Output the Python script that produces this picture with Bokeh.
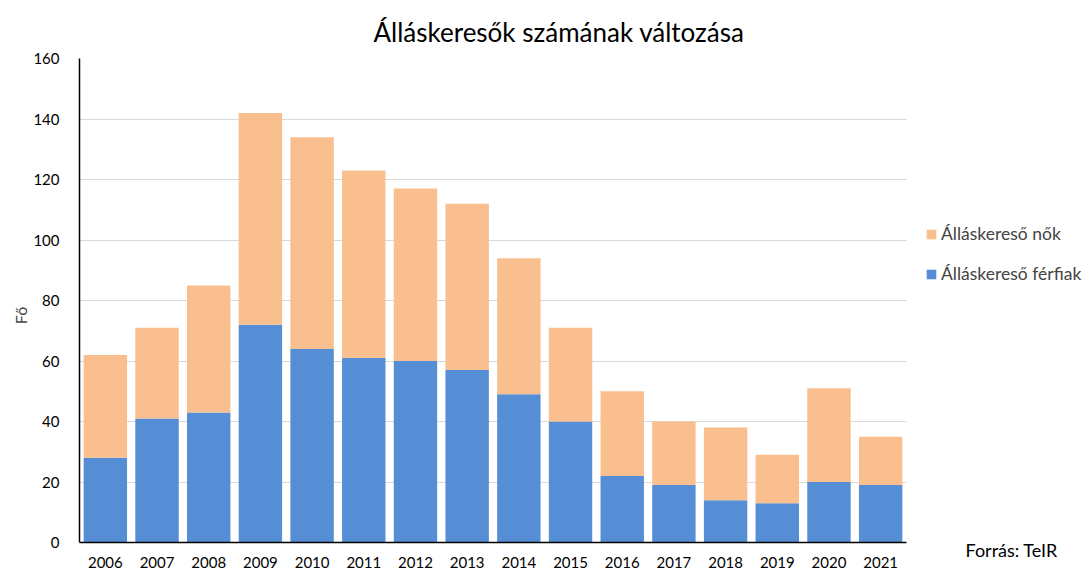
from bokeh.plotting import figure
from bokeh.models import Legend, LegendItem, Label, Range1d, SingleIntervalTicker, FixedTicker
from bokeh.embed import file_html
from bokeh.resources import INLINE

years = ["2006", "2007", "2008", "2009", "2010", "2011", "2012", "2013",
         "2014", "2015", "2016", "2017", "2018", "2019", "2020", "2021"]
ferfiak = [28, 41, 43, 72, 64, 61, 60, 57, 49, 40, 22, 19, 14, 13, 20, 19]
nok = [34, 30, 42, 70, 70, 62, 57, 55, 45, 31, 28, 21, 24, 16, 31, 16]
series = ["ferfiak", "nok"]
series_names = ["Álláskereső férfiak", "Álláskereső nők"]
colors = ["#558ED5", "#F9BF8F"]
y_ticks_step = 20
y_max = 160

FONT = "Lato"

W, H = 1090, 572
LEFT, TOP = 79, 58
n = len(years)
xpos = list(range(n))
# frame geometry (pixels): ranges are extended so legend/source fit inside the frame
bar_area_px = 827.0
frame_w_px = W - LEFT
px_per_unit_y = 484.0 / y_max
axis_px_from_bottom = H - 542
x_end = -0.5 + frame_w_px * n / bar_area_px
y_start = -axis_px_from_bottom / px_per_unit_y

p = figure(x_range=Range1d(-0.5, x_end), y_range=Range1d(y_start, y_max),
           width=W, height=H, output_backend="svg", toolbar_location=None,
           min_border_left=LEFT, min_border_right=0, min_border_top=TOP, min_border_bottom=0)

data = {"x": xpos, "years": years, "ferfiak": ferfiak, "nok": nok}
rs = p.vbar_stack(series, x="x", width=0.84, color=colors, line_color=None, source=data)

p.title.text = "Álláskeresők számának változása"
p.title.align = "left"
p.title.offset = 294
p.title.vertical_align = "top"
p.title.standoff = 18
p.title.text_font = FONT
p.title.text_font_size = "26px"
p.title.text_font_style = "normal"
p.title.text_color = "#000000"

p.outline_line_color = None
p.xgrid.grid_line_color = None
p.ygrid.grid_line_color = "#D9D9D9"
p.ygrid.grid_line_width = 1
p.ygrid.cross_bounds = (-0.5, n - 0.5)

p.yaxis.ticker = SingleIntervalTicker(interval=y_ticks_step)
p.yaxis.bounds = (0, y_max)
p.yaxis.axis_label = "Fő"
p.yaxis.axis_label_text_font = FONT
p.yaxis.axis_label_text_font_size = "16px"
p.yaxis.axis_label_text_font_style = "normal"
p.yaxis.axis_label_standoff = 0

p.xaxis.ticker = FixedTicker(ticks=xpos)
p.xaxis.major_label_overrides = {i: y for i, y in zip(xpos, years)}
p.xaxis.bounds = (-0.5, n - 0.5)
p.xaxis.fixed_location = 0

for ax in (p.xaxis, p.yaxis):
    ax.axis_line_color = "#000000"
    ax.axis_line_width = 1.5
    ax.major_tick_line_color = None
    ax.minor_tick_line_color = None
    ax.major_label_text_font = FONT
    ax.major_label_text_font_size = "15px"
    ax.major_label_text_color = "#000000"
p.yaxis.major_label_standoff = 14
p.xaxis.major_label_standoff = 8

legend = Legend(items=[LegendItem(label=series_names[1], renderers=[rs[1]]),
                       LegendItem(label=series_names[0], renderers=[rs[0]])],
                location=(846, 288), orientation="vertical", border_line_color=None,
                background_fill_alpha=0, margin=0, padding=0, spacing=19,
                glyph_width=12, glyph_height=12, label_standoff=4,
                label_text_font=FONT, label_text_font_size="17.5px")
p.add_layout(legend, "center")

src = Label(x=886, y=23, x_units="screen", y_units="screen", text="Forrás: TeIR",
            text_font=FONT, text_font_size="18px", text_baseline="middle", text_color="#000000")
p.add_layout(src)

open("out.html", "w").write(file_html(p, INLINE))
